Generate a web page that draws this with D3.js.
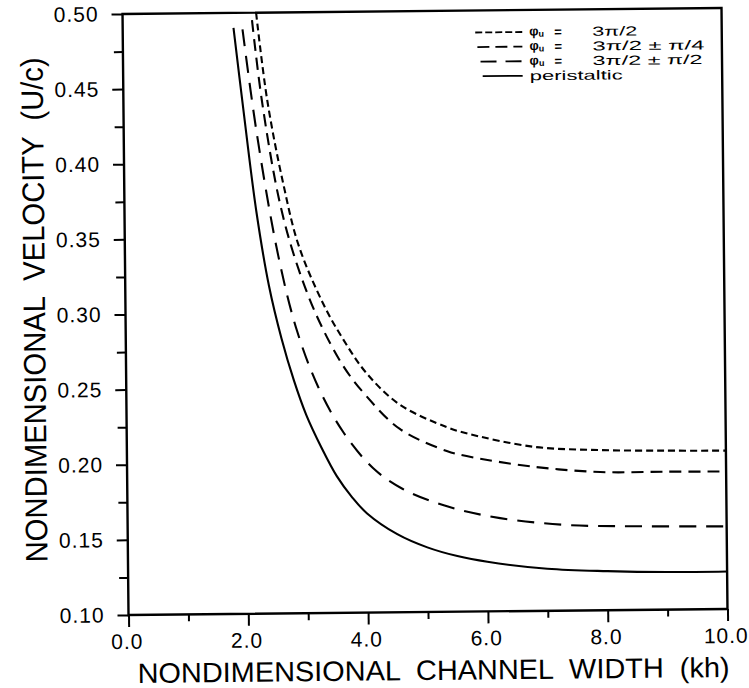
<!DOCTYPE html>
<html>
<head>
<meta charset="utf-8">
<script src="https://cdn.jsdelivr.net/npm/d3@7/dist/d3.min.js"></script>
<style>
  html, body { margin: 0; padding: 0; background: #fff; }
  svg { display: block; }
  text { font-family: "Liberation Sans", Arial, Helvetica, sans-serif; fill: #000; white-space: pre; }
</style>
</head>
<body>
<script>
// Nondimensional swimming velocity U/c against channel width kh
const xTickValues = [0, 2, 4, 6, 8, 10];
const xMinorTicks = [1, 3, 5, 7, 9];
const yTickValues = [0.10, 0.15, 0.20, 0.25, 0.30, 0.35, 0.40, 0.45, 0.50];
const yMinorTicks = [0.125, 0.175, 0.225, 0.275, 0.325, 0.375, 0.425, 0.475];

// phase 3π/2
const phaseKh = [2.23, 2.40, 2.66, 2.90, 3.30, 3.63, 4.02, 4.57, 5.34, 5.67, 6.78, 7.90, 9.01, 10.0];
const phaseU  = [0.500, 0.442, 0.385, 0.345, 0.306, 0.282, 0.259, 0.238, 0.223, 0.2187, 0.2093, 0.2066, 0.2058, 0.2054];

// phase 3π/2 ± π/4
const quarterKh = [2.16, 2.31, 2.58, 2.84, 3.19, 3.63, 4.01, 4.56, 5.34, 5.67, 6.78, 7.90, 9.01, 10.0];
const quarterU  = [0.495, 0.442, 0.376, 0.336, 0.298, 0.264, 0.244, 0.222, 0.207, 0.2035, 0.196, 0.192, 0.1918, 0.1915];

// phase 3π/2 ± π/2
const halfKh = [2.00, 2.22, 2.56, 2.86, 3.21, 3.62, 4.11, 4.60, 5.35, 6.22, 7.33, 8.44, 10.0];
const halfU  = [0.489, 0.420, 0.338, 0.288, 0.250, 0.220, 0.196, 0.182, 0.170, 0.162, 0.157, 0.1557, 0.155];

// peristaltic
const periKh = [1.85, 2.00, 2.20, 2.40, 2.60, 2.80, 3.00, 3.25, 3.50, 3.75, 4.00, 4.50, 5.00, 5.50, 6.00, 7.00, 8.00, 9.00, 10.0];
const periU  = [0.490, 0.436, 0.368, 0.318, 0.283, 0.255, 0.232, 0.210, 0.191, 0.177, 0.166, 0.152, 0.143, 0.137, 0.133, 0.128, 0.126, 0.125, 0.125];

const W = 749, H = 688;
const plotLeft = 125.5, plotRight = 724.5, plotTop = 11, plotBottom = 612;

const svg = d3.select("body").append("svg")
  .attr("width", W).attr("height", H);

// the whole sheet sits very slightly tilted
const g = svg.append("g").attr("transform", "rotate(-0.57, 425, 311)");

const x = d3.scaleLinear().domain([0, 10]).range([plotLeft, plotRight]);
const y = d3.scaleLinear().domain([0.1, 0.5]).range([plotBottom, plotTop]);

const series = [
  { kh: phaseKh,   u: phaseU,   dash: "7,4" },
  { kh: quarterKh, u: quarterU, dash: "12,7" },
  { kh: halfKh,    u: halfU,    dash: "17,10" },
  { kh: periKh,    u: periU,    dash: null }
];

const line = d3.line()
  .x(d => x(d[0])).y(d => y(d[1]))
  .curve(d3.curveCatmullRom.alpha(0.5));

g.selectAll("path.curve").data(series).enter().append("path")
  .attr("class", "curve")
  .attr("d", s => line(s.kh.map((k, i) => [k, s.u[i]])))
  .attr("fill", "none")
  .attr("stroke", "#000")
  .attr("stroke-width", 2.1)
  .attr("stroke-dasharray", s => s.dash);

// axes
const fmt = d3.format(".2f");
const yAxis = g.append("g").attr("transform", `translate(${plotLeft},0)`)
  .call(d3.axisLeft(y).tickValues(yTickValues).tickFormat(fmt).tickSize(11).tickPadding(13));
const yMinor = g.append("g").attr("transform", `translate(${plotLeft},0)`)
  .call(d3.axisLeft(y).tickValues(yMinorTicks).tickFormat("").tickSize(9));
const xAxis = g.append("g").attr("transform", `translate(0,${plotBottom})`)
  .call(d3.axisBottom(x).tickValues(xTickValues).tickFormat(d3.format(".1f")).tickSize(12).tickPadding(7));
const xMinor = g.append("g").attr("transform", `translate(0,${plotBottom})`)
  .call(d3.axisBottom(x).tickValues(xMinorTicks).tickFormat("").tickSize(7));

[yAxis, yMinor, xAxis, xMinor].forEach(a => {
  a.select(".domain").remove();
  a.selectAll(".tick line").attr("stroke", "#000").attr("stroke-width", 2);
});
yAxis.selectAll(".tick text").attr("font-size", 21).attr("letter-spacing", 1);
xAxis.selectAll(".tick text").attr("font-size", 21).attr("letter-spacing", 1).attr("dx", -2);

// frame
g.append("rect")
  .attr("x", plotLeft).attr("y", plotTop)
  .attr("width", plotRight - plotLeft).attr("height", plotBottom - plotTop)
  .attr("fill", "none").attr("stroke", "#000").attr("stroke-width", 2.4);

// axis titles
g.append("text")
  .attr("x", 430).attr("y", 680)
  .attr("text-anchor", "middle")
  .attr("font-size", 28)
  .attr("textLength", 592).attr("lengthAdjust", "spacingAndGlyphs")
  .text("NONDIMENSIONAL  CHANNEL  WIDTH  (kh)");

g.append("text")
  .attr("transform", "translate(45,306) rotate(-90)")
  .attr("text-anchor", "middle")
  .attr("font-size", 31)
  .attr("textLength", 505).attr("lengthAdjust", "spacingAndGlyphs")
  .text("NONDIMENSIONAL  VELOCITY  (U/c)");

// legend
const legendRows = [
  { dash: "7,3", x0: 478, rhs: "3π/2", len: 45 },
  { dash: "12,6", x0: 480, rhs: "3π/2 ± π/4", len: 112 },
  { dash: "16,9", x0: 483, rhs: "3π/2 ± π/2", len: 110 },
  { dash: null, x0: 485, rhs: null, len: 93 }
];
const legend = g.append("g").attr("transform", "translate(0,2)");
legendRows.forEach((r, i) => {
  const cy = 31 + i * 14.6;
  legend.append("line")
    .attr("x1", r.x0).attr("x2", 525).attr("y1", cy).attr("y2", cy)
    .attr("stroke", "#000").attr("stroke-width", 1.8)
    .attr("stroke-dasharray", r.dash);
  if (r.rhs) {
    const t = legend.append("text").attr("x", 532).attr("y", cy + 3.5).attr("font-size", 13).attr("font-weight", "bold");
    t.append("tspan").text("φ");
    t.append("tspan").attr("font-size", 9).attr("dy", 1.5).text("u");
    legend.append("text").attr("x", 557).attr("y", cy + 4.5).attr("font-size", 13).attr("font-weight", "bold").text("=");
    legend.append("text").attr("x", 595).attr("y", cy + 4.5).attr("font-size", 13)
      .attr("textLength", r.len).attr("lengthAdjust", "spacingAndGlyphs")
      .text(r.rhs);
  } else {
    legend.append("text").attr("x", 532).attr("y", cy + 4.5).attr("font-size", 13)
      .attr("textLength", r.len).attr("lengthAdjust", "spacingAndGlyphs")
      .text("peristaltic");
  }
});
</script>
</body>
</html>
